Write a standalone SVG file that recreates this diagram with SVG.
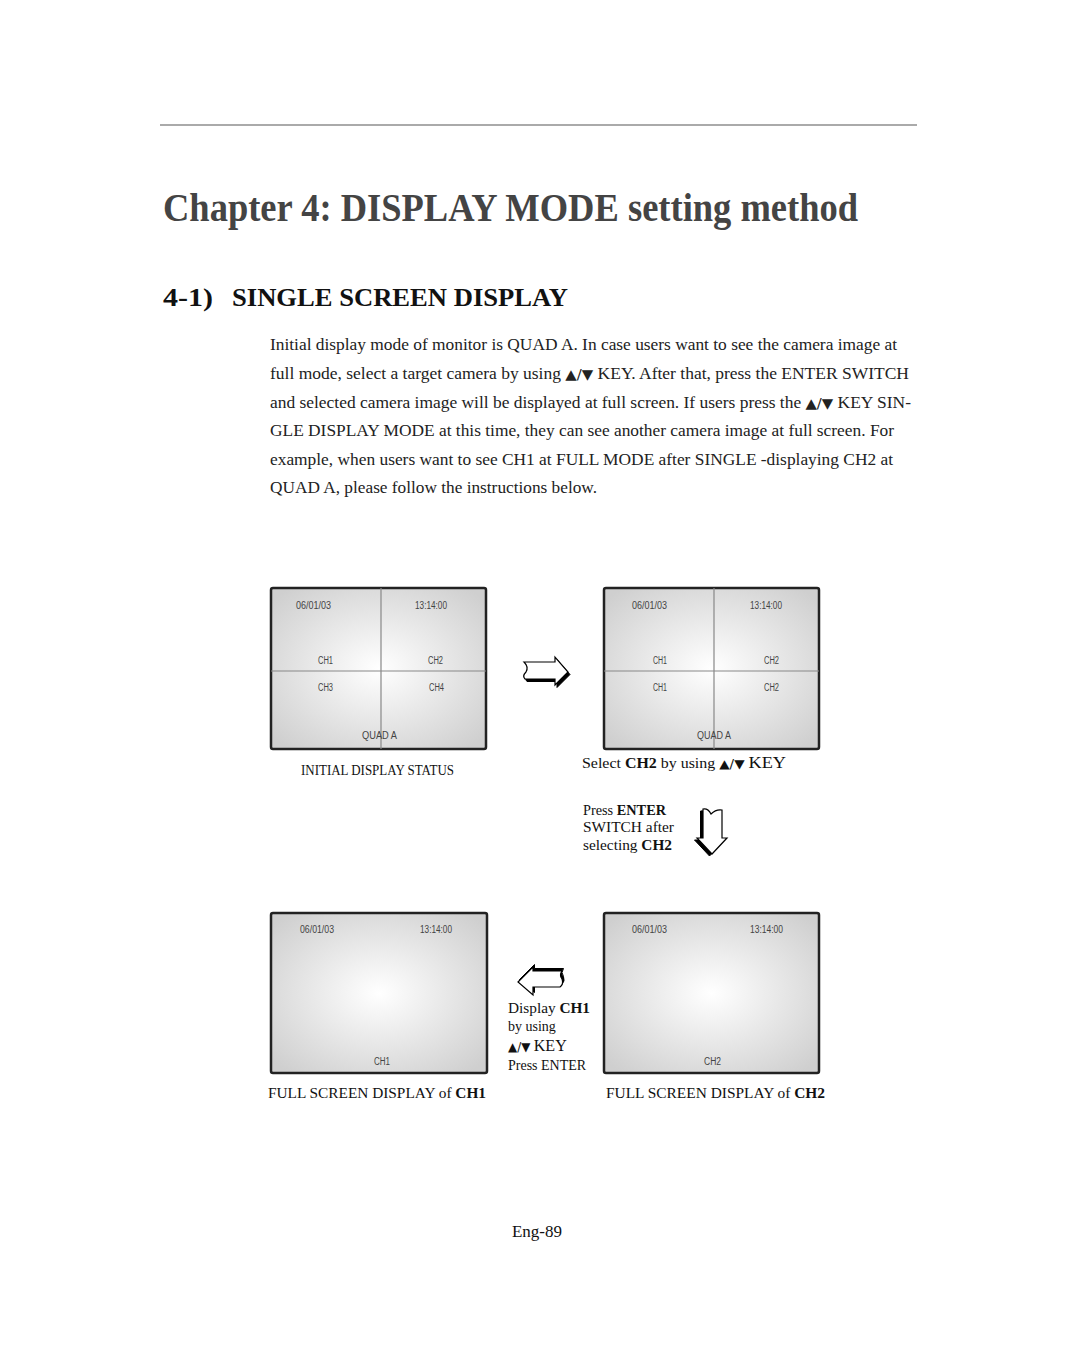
<svg xmlns="http://www.w3.org/2000/svg" width="1080" height="1357" viewBox="0 0 1080 1357">
<defs>
<radialGradient id="scr" cx="50%" cy="50%" r="65%">
<stop offset="0" stop-color="#ffffff"/>
<stop offset="1" stop-color="#cfcfcf"/>
</radialGradient>
</defs>
<style>
.serif{font-family:"Liberation Serif","Times New Roman",serif;fill:#111}
.para{font-family:"Liberation Serif","Times New Roman",serif;font-size:16px;fill:#222}
.lbl{font-family:"Liberation Serif","Times New Roman",serif;font-size:14px;fill:#111}
.tri{font-family:"DejaVu Sans",sans-serif;font-size:0.85em}
.osd{font-family:"Liberation Sans",Arial,sans-serif;font-size:10px;fill:#444}
.frame{fill:url(#scr);stroke:#222;stroke-width:2.5}
.div{stroke:#888;stroke-width:1.2;fill:none}
.arw{fill:#fff;stroke:#000;stroke-width:1.2;stroke-linejoin:miter}
.shd{fill:#000;stroke:#000;stroke-width:1}
</style>
<rect width="1080" height="1357" fill="#fff"/>
<line x1="160" y1="125" x2="917" y2="125" stroke="#aaa" stroke-width="2"/>
<text class="serif" x="163" y="221" font-size="40" font-weight="bold" style="fill:#444" textLength="695" lengthAdjust="spacingAndGlyphs">Chapter 4:  DISPLAY MODE setting method</text>
<text class="serif" x="163" y="306" font-size="26" font-weight="bold" textLength="50" lengthAdjust="spacingAndGlyphs">4-1)</text>
<text class="serif" x="232" y="306" font-size="26" font-weight="bold" textLength="336" lengthAdjust="spacingAndGlyphs">SINGLE SCREEN DISPLAY</text>
<g id="intro">
<text class="para" x="270" y="350" textLength="627" lengthAdjust="spacingAndGlyphs">Initial display mode of monitor is QUAD A. In case users want to see the camera image at</text>
<text class="para" x="270" y="379" textLength="639" lengthAdjust="spacingAndGlyphs">full mode, select a target camera by using <tspan class="tri">▲/▼</tspan> KEY. After that, press the ENTER SWITCH</text>
<text class="para" x="270" y="408" textLength="641" lengthAdjust="spacingAndGlyphs">and selected camera image will be displayed at full screen. If users press the <tspan class="tri">▲/▼</tspan> KEY SIN-</text>
<text class="para" x="270" y="436" textLength="624" lengthAdjust="spacingAndGlyphs">GLE DISPLAY MODE at this time, they can see another camera image at full screen. For</text>
<text class="para" x="270" y="465" textLength="623" lengthAdjust="spacingAndGlyphs">example, when users want to see CH1 at FULL MODE after SINGLE -displaying CH2 at</text>
<text class="para" x="270" y="493" textLength="327" lengthAdjust="spacingAndGlyphs">QUAD A, please follow the instructions below.</text>
</g>
<g id="screen-initial">
<rect class="frame" x="271" y="588" width="215" height="161" rx="2"/>
<line class="div" x1="381" y1="588" x2="381" y2="749"/>
<line class="div" x1="271" y1="671" x2="486" y2="671"/>
<text class="osd" x="296" y="609" textLength="35" lengthAdjust="spacingAndGlyphs">06/01/03</text>
<text class="osd" x="415" y="609" textLength="32" lengthAdjust="spacingAndGlyphs">13:14:00</text>
<text class="osd" x="318" y="664" textLength="15" lengthAdjust="spacingAndGlyphs">CH1</text>
<text class="osd" x="428" y="664" textLength="15" lengthAdjust="spacingAndGlyphs">CH2</text>
<text class="osd" x="318" y="691" textLength="15" lengthAdjust="spacingAndGlyphs">CH3</text>
<text class="osd" x="429" y="691" textLength="15" lengthAdjust="spacingAndGlyphs">CH4</text>
<text class="osd" x="362" y="739" textLength="35" lengthAdjust="spacingAndGlyphs">QUAD A</text>
<text class="lbl" x="301" y="775" font-size="12" textLength="153" lengthAdjust="spacingAndGlyphs">INITIAL DISPLAY STATUS</text>
</g>
<g id="screen-select">
<rect class="frame" x="604" y="588" width="215" height="161" rx="2"/>
<line class="div" x1="714" y1="588" x2="714" y2="749"/>
<line class="div" x1="604" y1="671" x2="819" y2="671"/>
<text class="osd" x="632" y="609" textLength="35" lengthAdjust="spacingAndGlyphs">06/01/03</text>
<text class="osd" x="750" y="609" textLength="32" lengthAdjust="spacingAndGlyphs">13:14:00</text>
<text class="osd" x="653" y="664" textLength="14" lengthAdjust="spacingAndGlyphs">CH1</text>
<text class="osd" x="764" y="664" textLength="15" lengthAdjust="spacingAndGlyphs">CH2</text>
<text class="osd" x="653" y="691" textLength="14" lengthAdjust="spacingAndGlyphs">CH1</text>
<text class="osd" x="764" y="691" textLength="15" lengthAdjust="spacingAndGlyphs">CH2</text>
<text class="osd" x="697" y="739" textLength="34" lengthAdjust="spacingAndGlyphs">QUAD A</text>
<text class="lbl" x="582" y="768" textLength="204" lengthAdjust="spacingAndGlyphs">Select <tspan font-weight="bold">CH2</tspan> by using <tspan class="tri">▲/▼</tspan> <tspan font-size="16">KEY</tspan></text>
</g>
<g id="screen-ch1">
<rect class="frame" x="271" y="913" width="216" height="160" rx="2"/>
<text class="osd" x="300" y="933" textLength="34" lengthAdjust="spacingAndGlyphs">06/01/03</text>
<text class="osd" x="420" y="933" textLength="32" lengthAdjust="spacingAndGlyphs">13:14:00</text>
<text class="osd" x="374" y="1065" textLength="16" lengthAdjust="spacingAndGlyphs">CH1</text>
<text class="lbl" x="268" y="1098" font-size="13" textLength="218" lengthAdjust="spacingAndGlyphs">FULL SCREEN DISPLAY of <tspan font-weight="bold">CH1</tspan></text>
</g>
<g id="screen-ch2">
<rect class="frame" x="604" y="913" width="215" height="160" rx="2"/>
<text class="osd" x="632" y="933" textLength="35" lengthAdjust="spacingAndGlyphs">06/01/03</text>
<text class="osd" x="750" y="933" textLength="33" lengthAdjust="spacingAndGlyphs">13:14:00</text>
<text class="osd" x="704" y="1065" textLength="17" lengthAdjust="spacingAndGlyphs">CH2</text>
<text class="lbl" x="606" y="1098" font-size="13" textLength="219" lengthAdjust="spacingAndGlyphs">FULL SCREEN DISPLAY of <tspan font-weight="bold">CH2</tspan></text>
</g>
<g id="connectors">
<g id="arrow-right">
<path class="shd" transform="translate(2,2.5)" d="M524,662 L555,662 L555,657 L568,672 L555,685 L555,679 L525,679 Q522,676 526,672 Q529,667 524,662 Z"/>
<path class="arw" d="M524,662 L555,662 L555,657 L568,672 L555,685 L555,679 L525,679 Q522,676 526,672 Q529,667 524,662 Z"/>
</g>
<g id="arrow-down">
<path class="shd" transform="translate(-2.5,2)" d="M703,809 Q708,808 711,814 Q716,809 722,810 L722,838 L727,838 L712,854 L697,838 L703,838 Z"/>
<path class="arw" d="M703,809 Q708,808 711,814 Q716,809 722,810 L722,838 L727,838 L712,854 L697,838 L703,838 Z"/>
<text class="lbl" x="583" y="815" textLength="83" lengthAdjust="spacingAndGlyphs">Press <tspan font-weight="bold">ENTER</tspan></text>
<text class="lbl" x="583" y="832" textLength="91" lengthAdjust="spacingAndGlyphs">SWITCH after</text>
<text class="lbl" x="583" y="850" textLength="89" lengthAdjust="spacingAndGlyphs">selecting <tspan font-weight="bold">CH2</tspan></text>
</g>
<g id="arrow-left">
<path class="shd" transform="translate(1.5,-2.5)" d="M518,982 L533,967 L533,971 L562,971 Q559,975 562,979 Q564,984 560,987 L533,987 L533,995 Z"/>
<path class="arw" d="M518,982 L533,967 L533,971 L562,971 Q559,975 562,979 Q564,984 560,987 L533,987 L533,995 Z"/>
<text class="lbl" x="508" y="1013" textLength="82" lengthAdjust="spacingAndGlyphs">Display <tspan font-weight="bold">CH1</tspan></text>
<text class="lbl" x="508" y="1031">by using</text>
<text class="lbl" x="508" y="1051"><tspan class="tri">▲/▼</tspan> <tspan font-size="16">KEY</tspan></text>
<text class="lbl" x="508" y="1070" font-size="11">Press ENTER</text>
</g>
</g>
<text class="serif" x="537" y="1237" font-size="17" text-anchor="middle">Eng-89</text>
</svg>
